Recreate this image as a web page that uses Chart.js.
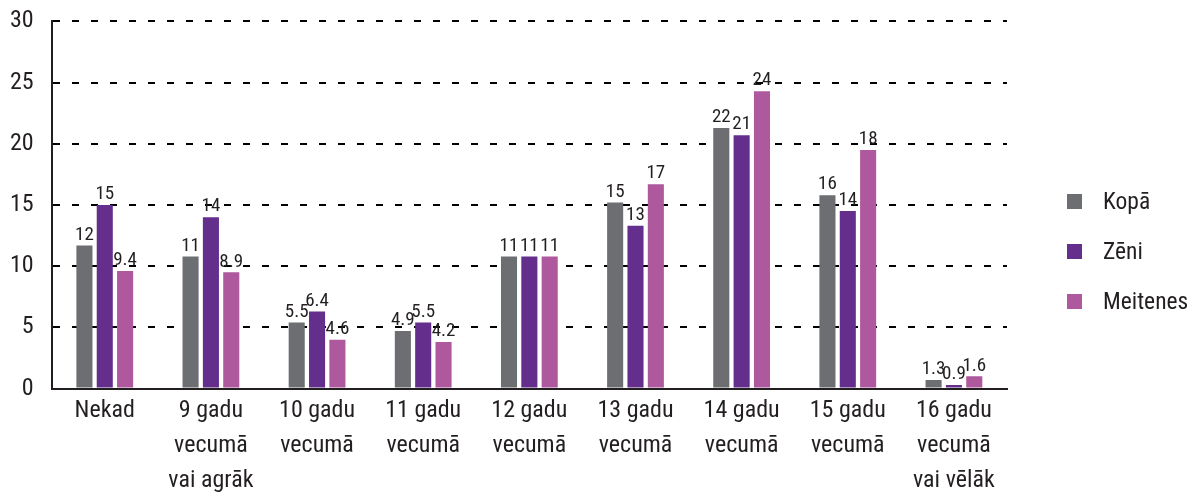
<!DOCTYPE html>
<html>
<head>
<meta charset="utf-8">
<script src="https://cdn.jsdelivr.net/npm/chart.js@4"></script>
<style>
  html, body { margin: 0; padding: 0; background: #fff; overflow: hidden; }
  #wrap { position: relative; width: 1187px; height: 495px; overflow: hidden; }
  #chart { position: absolute; left: 0; top: -11px; }
  #legend { position: absolute; left: 1067px; top: 176px; font-family: "Roboto Condensed", sans-serif; font-size: 23.5px; color: #231f20; }
  #legend .item { height: 50px; display: flex; align-items: center; }
  #legend .box { width: 15px; height: 15px; margin-right: 21px; }
</style>
</head>
<body>
<div id="wrap">
  <canvas id="chart" width="1187" height="514"></canvas>
  <div id="legend"></div>
</div>
<script>
document.addEventListener("DOMContentLoaded", function() {
  var categories = [
    "Nekad",
    ["9 gadu", "vecumā", "vai agrāk"],
    ["10 gadu", "vecumā"],
    ["11 gadu", "vecumā"],
    ["12 gadu", "vecumā"],
    ["13 gadu", "vecumā"],
    ["14 gadu", "vecumā"],
    ["15 gadu", "vecumā"],
    ["16 gadu", "vecumā", "vai vēlāk"]
  ];
  var seriesNames = ["Kopā", "Zēni", "Meitenes"];
  var seriesColors = ["#6d6e71", "#632e8c", "#ae589d"];

  // bar heights
  var kopa = [11.7, 10.8, 5.4, 4.7, 10.8, 15.2, 21.3, 15.8, 0.7];
  var zeni = [15.0, 14.0, 6.3, 5.4, 10.8, 13.3, 20.7, 14.5, 0.3];
  var meitenes = [9.6, 9.5, 4.0, 3.8, 10.8, 16.7, 24.3, 19.5, 1.0];

  // printed value labels
  var kopaLabels = ["12", "11", "5.5", "4.9", "11", "15", "22", "16", "1.3"];
  var zeniLabels = ["15", "14", "6.4", "5.5", "11", "13", "21", "14", "0.9"];
  var meitenesLabels = ["9.4", "8.9", "4.6", "4.2", "11", "17", "24", "18", "1.6"];

  var yTicks = [0, 5, 10, 15, 20, 25, 30];

  var fontFamily = '"Roboto Condensed", sans-serif';
  var textColor = "#231f20";

  var allValues = [kopa, zeni, meitenes];
  var allLabels = [kopaLabels, zeniLabels, meitenesLabels];

  var valueLabels = {
    id: "valueLabels",
    afterDatasetsDraw: function(chart) {
      var ctx = chart.ctx;
      ctx.save();
      ctx.font = "19px " + fontFamily;
      ctx.fillStyle = textColor;
      ctx.textAlign = "center";
      ctx.textBaseline = "bottom";
      chart.data.datasets.forEach(function(ds, i) {
        var meta = chart.getDatasetMeta(i);
        meta.data.forEach(function(bar, j) {
          ctx.fillText(allLabels[i][j], bar.x, bar.y - 1);
        });
      });
      ctx.restore();
    }
  };

  var datasets = allValues.map(function(vals, i) {
    return {
      label: seriesNames[i],
      data: vals,
      backgroundColor: seriesColors[i],
      categoryPercentage: 0.575,
      barPercentage: 0.79
    };
  });

  var legendEl = document.getElementById("legend");
  seriesNames.forEach(function(name, i) {
    var item = document.createElement("div");
    item.className = "item";
    var box = document.createElement("span");
    box.className = "box";
    box.style.background = seriesColors[i];
    var txt = document.createElement("span");
    txt.textContent = name;
    item.appendChild(box);
    item.appendChild(txt);
    legendEl.appendChild(item);
  });

  var ctx = document.getElementById("chart").getContext("2d");
  new Chart(ctx, {
    type: "bar",
    data: { labels: categories, datasets: datasets },
    plugins: [valueLabels],
    options: {
      responsive: false,
      animation: false,
      layout: { padding: { top: 0, right: 180, left: -8, bottom: 0 } },
      plugins: {
        legend: { display: false },
        tooltip: { enabled: false }
      },
      scales: {
        x: {
          grid: { display: false, drawTicks: false },
          border: { display: true, color: "#231f20", width: 2 },
          ticks: {
            color: textColor,
            padding: 5,
            maxRotation: 0,
            autoSkip: false,
            font: { family: fontFamily, size: 24, lineHeight: 1.45 }
          }
        },
        y: {
          min: 0,
          max: 30,
          afterBuildTicks: function(axis) {
            axis.ticks = yTicks.map(function(v) { return { value: v }; });
          },
          grid: { color: "#000", lineWidth: 2, drawTicks: false },
          border: { display: true, color: "#231f20", width: 2, dash: [7, 12] },
          ticks: {
            color: textColor,
            padding: 18,
            font: { family: fontFamily, size: 24 }
          }
        }
      }
    }
  });
});
</script>
</body>
</html>
